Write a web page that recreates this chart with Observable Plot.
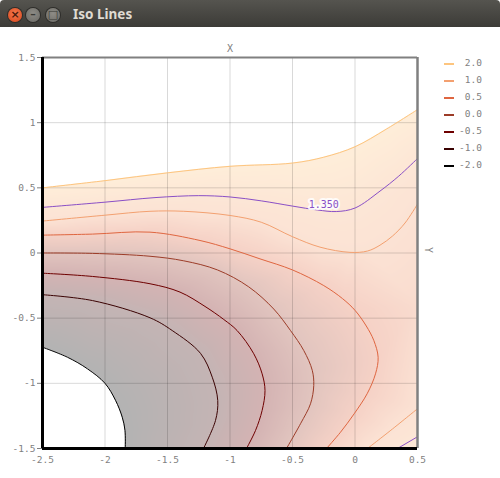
<!DOCTYPE html>
<html><head><meta charset="utf-8">
<script src="https://cdn.jsdelivr.net/npm/d3@7"></script>
<script src="https://cdn.jsdelivr.net/npm/@observablehq/plot@0.6"></script>
<style>
html,body{margin:0;padding:0;background:#fff;width:500px;height:478px;overflow:hidden;}
#bar{position:absolute;left:0;top:0;width:500px;height:27px;background:linear-gradient(#55544f,#3c3b37);border-radius:4px 4px 0 0;}
.btn{position:absolute;top:8px;width:14px;height:14px;border-radius:50%;font:bold 11px "DejaVu Sans",sans-serif;line-height:14px;text-align:center;color:#3a3a36;box-shadow:0 0 0 1px #2e2d2a;}
#close{left:8px;background:radial-gradient(circle at 50% 40%,#f57a4e,#d9461c);color:#4a1a0c;}
#min{left:26px;background:radial-gradient(circle at 50% 40%,#8e8c86,#6a6964);}
#max{left:46px;background:radial-gradient(circle at 50% 40%,#8e8c86,#6a6964);}
#title{position:absolute;left:73px;top:5px;font:bold 13.5px "Noto Sans","DejaVu Sans",sans-serif;color:#dfdbd2;}
#chart{position:absolute;left:0;top:28px;}
#legend{position:absolute;left:0;top:0;}
.lrow{position:absolute;left:440px;width:44px;height:12px;}
.lsw{position:absolute;left:4px;top:5px;width:10px;height:2px;}
.llab{position:absolute;right:2px;top:-1px;font:9.5px "DejaVu Sans Mono",monospace;color:#7f7f7f;white-space:pre;}
</style>
</head><body>
<div id="bar"><div class="btn" id="close">×</div><div class="btn" id="min">–</div><div class="btn" id="max">□</div><div id="title">Iso Lines</div></div>
<div id="chart"></div>
<div id="legend"></div>
<script>
// axis setup
const xDomain = [-2.5, 0.5];
const yDomain = [-1.5, 1.5];
const xTicks = [-2.5, -2, -1.5, -1, -0.5, 0, 0.5];
const yTicks = [-1.5, -1, -0.5, 0, 0.5, 1, 1.5];
const xGrid = [-2, -1.5, -1, -0.5, 0];
const yGrid = [-1, -0.5, 0, 0.5, 1];

// legend levels (top to bottom)
const levels = [2.0, 1.0, 0.5, 0.0, -0.5, -1.0, -2.0];
const levelLabels = ["2.0", "1.0", "0.5", "0.0", "-0.5", "-1.0", "-2.0"];
const levelColors = ["#fdc57f", "#f3a070", "#df6640", "#9c3c28", "#6e0000", "#3a0202", "#000000"];

// highlighted iso value
const highlightLevel = 1.35;
const highlightText = "1.350";
const highlightColor = "#8a4fc6";

// iso lines: [x, y]
const iso_2_0 = [[-2.5,0.5],[-2.0,0.555],[-1.5,0.615],[-1.0,0.665],[-0.5,0.69],[-0.25,0.735],[0.0,0.815],[0.25,0.95],[0.5,1.1]];
const iso_1_35a = [[-2.5,0.35],[-2.0,0.39],[-1.6,0.425],[-1.25,0.44],[-1.0,0.43],[-0.75,0.40],[-0.5,0.36],[-0.3,0.33],[-0.15,0.318],[0.0,0.345],[0.2,0.475],[0.35,0.59],[0.5,0.725]];
const iso_1_35b = [[0.34,-1.5],[0.5,-1.41]];
const iso_1_0a = [[-2.5,0.245],[-2.0,0.29],[-1.64,0.32],[-1.37,0.32],[-1.0,0.288],[-0.75,0.236],[-0.5,0.125],[-0.28,0.045],[-0.04,0.005],[0.1,0.015],[0.2,0.06],[0.3,0.13],[0.4,0.23],[0.5,0.375]];
const iso_1_0b = [[0.1,-1.5],[0.3,-1.35],[0.5,-1.195]];
const iso_0_5 = [[-2.5,0.137],[-2.1,0.145],[-1.64,0.16],[-1.24,0.096],[-1.0,0.032],[-0.76,-0.045],[-0.5,-0.13],[-0.25,-0.25],[-0.1,-0.35],[0.0,-0.44],[0.09,-0.56],[0.15,-0.67],[0.185,-0.8],[0.164,-0.927],[0.097,-1.08],[-0.007,-1.234],[-0.116,-1.375],[-0.228,-1.5]];
const iso_0_0 = [[-2.5,0.0],[-2.1,-0.003],[-1.64,-0.025],[-1.37,-0.06],[-1.1,-0.13],[-0.85,-0.26],[-0.65,-0.43],[-0.516,-0.595],[-0.41,-0.748],[-0.342,-0.9],[-0.33,-1.017],[-0.356,-1.157],[-0.436,-1.31],[-0.548,-1.5]];
const iso_m0_5 = [[-2.5,-0.155],[-2.1,-0.18],[-1.64,-0.236],[-1.4,-0.3],[-1.2,-0.41],[-1.05,-0.51],[-0.943,-0.595],[-0.81,-0.773],[-0.743,-0.927],[-0.72,-1.055],[-0.743,-1.208],[-0.796,-1.362],[-0.868,-1.5]];
const iso_m1_0 = [[-2.5,-0.32],[-2.1,-0.365],[-1.64,-0.497],[-1.462,-0.595],[-1.236,-0.77],[-1.142,-0.953],[-1.098,-1.132],[-1.116,-1.285],[-1.212,-1.5]];
const iso_m2_0 = [[-2.5,-0.723],[-2.3,-0.8],[-2.14,-0.889],[-2.0,-1.0],[-1.916,-1.13],[-1.862,-1.26],[-1.84,-1.362],[-1.838,-1.5]];

// estimated values at a few extra places (corners, right edge): [x, y, value]
const fillAnchors = [[-2.5,1.5,3],[-1.0,1.5,3],[0.5,1.5,3],[-2.5,-1.5,-3],[0.5,-1.5,1.5],[0.5,-0.4,0.8]];

// label of the highlighted line: point on the line
const highlightLabelAt = [-0.25, 0.325];

const isoSets = [
  {level: 2.0, pts: iso_2_0},
  {level: 1.0, pts: iso_1_0a},
  {level: 1.0, pts: iso_1_0b},
  {level: 0.5, pts: iso_0_5},
  {level: 0.0, pts: iso_0_0},
  {level: -0.5, pts: iso_m0_5},
  {level: -1.0, pts: iso_m1_0},
  {level: -2.0, pts: iso_m2_0}
];
const hiSets = [iso_1_35a, iso_1_35b];

const rows = [];
isoSets.forEach((s, i) => s.pts.forEach(([x, y]) => rows.push({id: i, level: s.level, x, y})));
const hiRows = [];
hiSets.forEach((pts, i) => pts.forEach(([x, y]) => hiRows.push({id: i, x, y})));

const samples = rows.map(r => ({x: r.x, y: r.y, v: r.level}))
  .concat(hiRows.map(r => ({x: r.x, y: r.y, v: highlightLevel})))
  .concat(fillAnchors.map(([x, y, v]) => ({x, y, v})));

const topRows = iso_2_0.map(([x, y]) => ({x, y}));
const botRows = iso_m2_0.map(([x, y]) => ({x, y}));

const asc = levels.map((l, i) => [l, levelColors[i]]).sort((a, b) => a[0] - b[0]);

const chart = Plot.plot({
  width: 500, height: 450,
  marginLeft: 42, marginRight: 83, marginTop: 29, marginBottom: 30,
  style: {fontFamily: "DejaVu Sans Mono", fontSize: "9.5px", color: "#7f7f7f", background: "transparent", overflow: "visible"},
  x: {domain: xDomain, ticks: xTicks, tickFormat: d => String(d), tickSize: 0, tickPadding: 8, label: null},
  y: {domain: yDomain, ticks: yTicks, tickFormat: d => String(d), tickSize: 5, tickPadding: 2, label: null},
  color: {type: "linear", domain: asc.map(d => d[0]), range: asc.map(d => d[1]), interpolate: "rgb", clamp: true},
  marks: [
    Plot.raster(samples, {x: "x", y: "y", fill: "v", interpolate: "barycentric", pixelSize: 1, fillOpacity: 0.3,
      x1: xDomain[0], x2: xDomain[1], y1: yDomain[0], y2: yDomain[1]}),
    Plot.areaY(topRows, {x: "x", y1: "y", y2: yDomain[1], fill: "white", curve: "catmull-rom"}),
    Plot.areaY(botRows, {x: "x", y1: yDomain[0], y2: "y", fill: "white", curve: "catmull-rom"}),
    Plot.ruleX(xGrid, {stroke: "#000", strokeOpacity: 0.15}),
    Plot.ruleY(yGrid, {stroke: "#000", strokeOpacity: 0.15}),
    Plot.line(rows, {x: "x", y: "y", z: "id", stroke: "level", curve: "catmull-rom", strokeWidth: 1}),
    Plot.line(hiRows, {x: "x", y: "y", z: "id", stroke: highlightColor, curve: "catmull-rom", strokeWidth: 1}),
    Plot.text([highlightLabelAt], {x: d => d[0], y: d => d[1], text: () => highlightText, dy: -6,
      fill: highlightColor, stroke: "white", strokeOpacity: 0.85, strokeWidth: 4, fontSize: 10}),
    Plot.ruleY([yDomain[1]], {stroke: "#808080", strokeWidth: 2}),
    Plot.ruleX([xDomain[1]], {stroke: "#808080", strokeWidth: 2.5}),
    Plot.ruleX([xDomain[0]], {stroke: "#000", strokeWidth: 3}),
    Plot.ruleY([yDomain[0]], {stroke: "#000", strokeWidth: 3}),
    Plot.text(["X"], {frameAnchor: "top", dy: -13, text: d => d, fill: "#808080", fontSize: 10}),
    Plot.text(["Y"], {frameAnchor: "right", dx: 11, rotate: 90, text: d => d, fill: "#808080", fontSize: 10})
  ]
});
document.getElementById("chart").appendChild(chart);

// legend
const leg = document.getElementById("legend");
levels.forEach((l, i) => {
  const row = document.createElement("div");
  row.className = "lrow";
  row.style.top = (58 + i * 17) + "px";
  row.innerHTML = `<div class="lsw" style="background:${levelColors[i]}"></div><div class="llab">${levelLabels[i]}</div>`;
  leg.appendChild(row);
});
</script>
</body></html>
